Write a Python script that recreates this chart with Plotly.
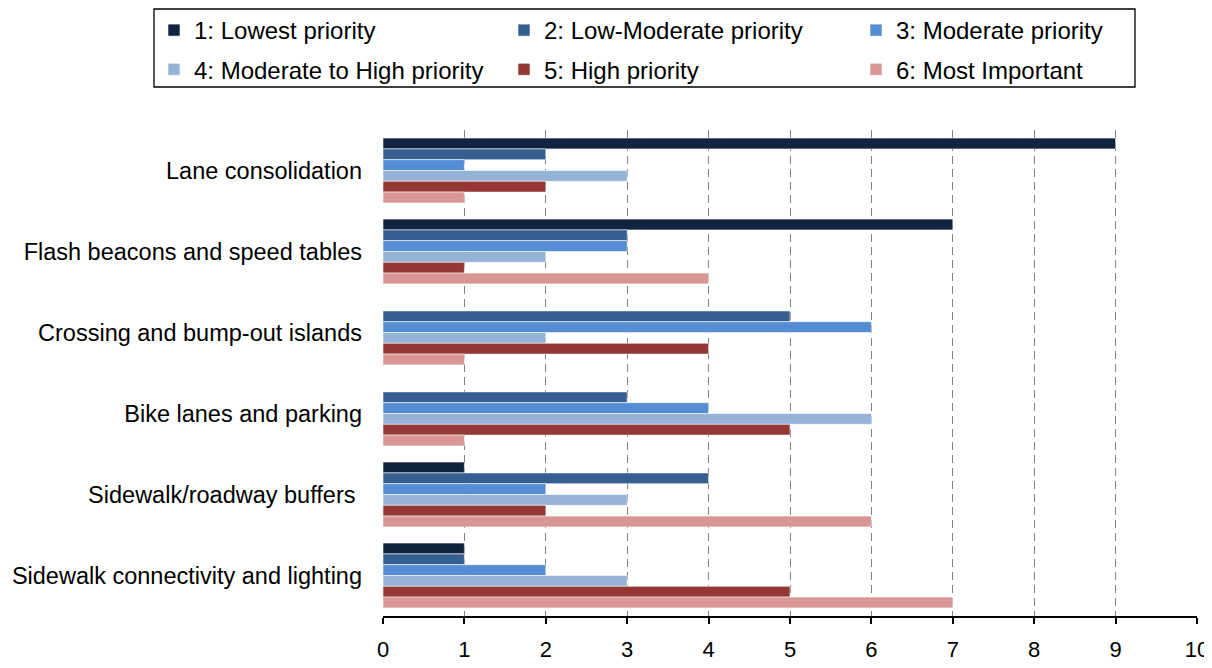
import plotly.graph_objects as go

categories = ["Lane consolidation", "Flash beacons and speed tables", "Crossing and bump-out islands",
              "Bike lanes and parking", "Sidewalk/roadway buffers ", "Sidewalk connectivity and lighting"]
series_names = ["1: Lowest priority", "2: Low-Moderate priority", "3: Moderate priority",
                "4: Moderate to High priority", "5: High priority", "6: Most Important"]
s1 = [9, 7, 0, 0, 1, 1]
s2 = [2, 3, 5, 3, 4, 1]
s3 = [1, 3, 6, 4, 2, 2]
s4 = [3, 2, 2, 6, 3, 3]
s5 = [2, 1, 4, 5, 2, 5]
s6 = [1, 4, 1, 1, 6, 7]
colors = ["#10243F", "#355F91", "#548DD4", "#95B3D7", "#953735", "#D99694"]
x_ticks = list(range(0, 11))

FONT = "Liberation Sans, Arial, sans-serif"
FS = 24
# page body adds an 8px offset, so the figure is 8px smaller on each side
W, H = 1204, 660
L, R, T, B = 375, 15, 122, 52
PW, PH = W - L - R, H - T - B

# legend columns: series 1&4 / 2&5 / 3&6
legend_ids = ["legend", "legend2", "legend3", "legend", "legend2", "legend3"]

fig = go.Figure()
for i, (name, vals, c) in enumerate(zip(series_names, [s1, s2, s3, s4, s5, s6], colors)):
    fig.add_trace(go.Bar(y=categories, x=vals, name=name, orientation="h",
                         legend=legend_ids[i], legendgroup=name,
                         marker=dict(color=c, line=dict(color="rgba(255,255,255,0.7)", width=0.8))))

def leg(left_px):
    return dict(orientation="v", xref="container", yref="container",
                x=left_px / W, xanchor="left", y=1.0, yanchor="top",
                bgcolor="rgba(0,0,0,0)", borderwidth=0, tracegroupgap=5,
                font=dict(family=FONT, size=FS, color="black"), itemwidth=30)

fig.update_layout(
    width=W, height=H,
    margin=dict(l=L, r=R, t=T, b=B, autoexpand=False),
    barmode="group", bargap=0.2, bargroupgap=0,
    plot_bgcolor="white", paper_bgcolor="white",
    font=dict(family=FONT, size=FS, color="black"),
    showlegend=True,
    legend=leg(146), legend2=leg(496), legend3=leg(848),
    shapes=[dict(type="rect", xref="paper", yref="paper",
                 x0=(146 - L) / PW, x1=(1127 - L) / PW,
                 y0=(H - B - 79) / PH, y1=(H - B - 1) / PH,
                 line=dict(color="black", width=1.3), fillcolor="rgba(0,0,0,0)", layer="above")],
    xaxis=dict(range=[0, 10], tickvals=x_ticks, showgrid=True, gridcolor="#808080",
               griddash="8px,5px", gridwidth=1.3, zeroline=False, showline=True,
               linecolor="black", linewidth=1.5, ticks="outside", ticklen=6,
               tickcolor="black", tickwidth=1.5, ticklabelstandoff=7,
               tickfont=dict(family=FONT, size=22, color="black")),
    yaxis=dict(autorange="reversed", showgrid=False, zeroline=False, showline=False,
               ticks="", ticklabelstandoff=20,
               tickfont=dict(family=FONT, size=23.5, color="black")),
)
fig.write_html("out.html")
